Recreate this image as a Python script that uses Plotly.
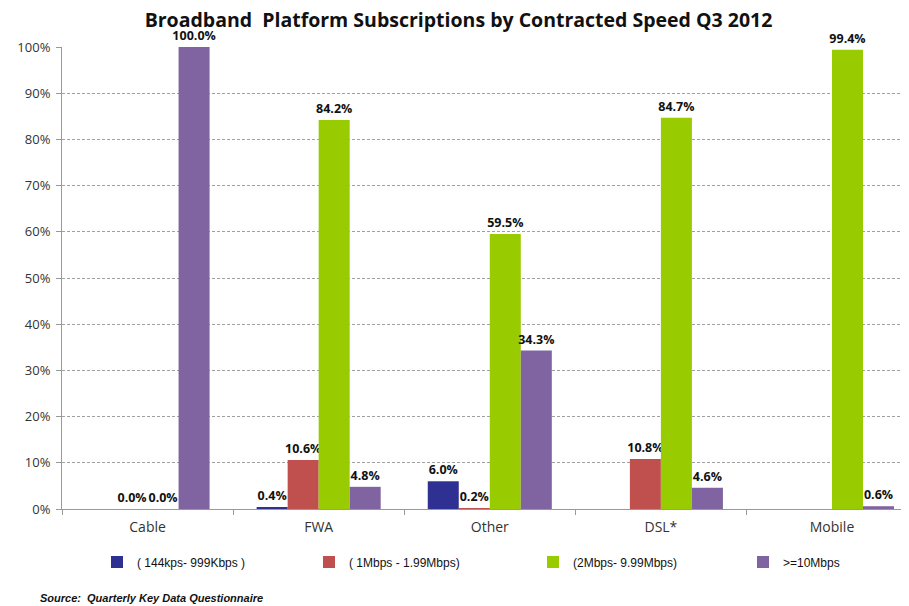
import plotly.graph_objects as go

# Kategorien und Werte (in %)
categories = ["Cable", "FWA", "Other", "DSL*", "Mobile"]
series_names = ["( 144kps- 999Kbps )", "( 1Mbps - 1.99Mbps)", "(2Mbps- 9.99Mbps)", ">=10Mbps"]
kbps_144_999 = [None, 0.4, 6.0, None, None]
mbps_1_199 = [0.0, 10.6, 0.2, 10.8, None]
mbps_2_999 = [0.0, 84.2, 59.5, 84.7, 99.4]
mbps_10_plus = [100.0, 4.8, 34.3, 4.6, 0.6]

y_ticks = [0, 10, 20, 30, 40, 50, 60, 70, 80, 90, 100]
y_tick_labels = [f"{t}%" for t in y_ticks]

colors = ["#2E3192", "#C0504D", "#99CC00", "#8064A2"]
series_values = [kbps_144_999, mbps_1_199, mbps_2_999, mbps_10_plus]

narrow = "Liberation Sans Narrow, Arial Narrow, Liberation Sans"
W, H = 901, 598  # Seite hat 8px body-margin
legend_ids = ["legend", "legend2", "legend3", "legend4"]
legend_x = [89, 301, 525, 735]  # linke Kante jeder Legende (px)

fig = go.Figure()
for name, vals, col, lid in zip(series_names, series_values, colors, legend_ids):
    labels = ["" if v is None else f"{v:.1f}%" for v in vals]
    fig.add_trace(go.Bar(
        x=categories,
        y=vals,
        name=name,
        legend=lid,
        showlegend=True,
        marker=dict(color=col, line=dict(width=0)),
        text=labels,
        textposition="outside",
        constraintext="none",
        textfont=dict(family="Open Sans", size=12.5, color="#111111", weight="bold"),
        cliponaxis=False,
    ))

legend_common = dict(
    orientation="h",
    xref="container", xanchor="left",
    y=1 - 554 / H, yref="container", yanchor="middle",
    font=dict(family=narrow, size=12, color="#111111"),
    itemwidth=30,
    bgcolor="rgba(0,0,0,0)",
)

fig.update_layout(
    showlegend=True,
    title=dict(
        text="<b>Broadband  Platform Subscriptions by Contracted Speed Q3 2012</b>",
        font=dict(family="Open Sans", size=19.5, color="#111111"),
        x=0.5, xref="container", xanchor="center",
        y=1 - 12 / H, yref="container", yanchor="middle",
    ),
    barmode="group",
    bargap=0.275,
    bargroupgap=0,
    width=W, height=H,
    margin=dict(l=54, r=0, t=39, b=97),
    plot_bgcolor="white",
    paper_bgcolor="white",
    xaxis=dict(
        range=[-0.5, 4.45],
        tickson="boundaries",
        ticks="outside", ticklen=5, tickcolor="#999999",
        ticklabelstandoff=5,
        showline=True, linecolor="#999999", linewidth=1,
        tickfont=dict(family="Open Sans", size=14, color="#333333"),
        showgrid=False,
    ),
    yaxis=dict(
        range=[0, 100],
        tickvals=y_ticks,
        ticktext=y_tick_labels,
        ticks="outside", ticklen=5, tickcolor="#999999",
        ticklabelstandoff=3,
        showline=True, linecolor="#999999", linewidth=1,
        showgrid=True, gridcolor="#A0A0A0", griddash="3px,2px", gridwidth=1,
        zeroline=False,
        tickfont=dict(family="Open Sans", size=13, color="#333333"),
    ),
    legend=dict(x=legend_x[0] / W, **legend_common),
    legend2=dict(x=legend_x[1] / W, **legend_common),
    legend3=dict(x=legend_x[2] / W, **legend_common),
    legend4=dict(x=legend_x[3] / W, **legend_common),
    annotations=[dict(
        text="<b><i>Source:  Quarterly Key Data Questionnaire</i></b>",
        x=(30 - 54) / 847, xref="paper", xanchor="left",
        y=(501 - 590) / 462, yref="paper", yanchor="middle",
        showarrow=False,
        font=dict(family=narrow, size=11, color="#111111"),
    )],
)

fig.write_html("out.html")
